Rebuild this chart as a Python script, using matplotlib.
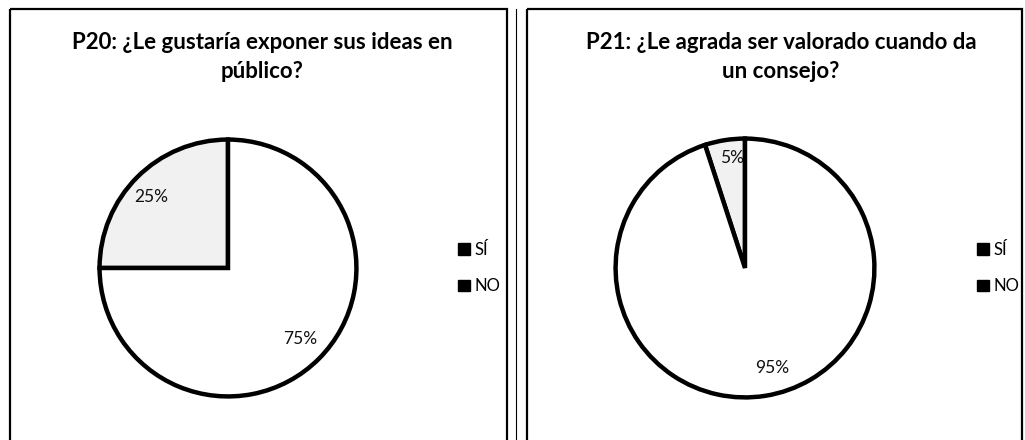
import matplotlib
matplotlib.use("Agg")
import matplotlib.pyplot as plt
from matplotlib.patches import Patch, Rectangle

categories = ["SÍ", "NO"]
titles = ["P20: ¿Le gustaría exponer sus ideas en\npúblico?",
          "P21: ¿Le agrada ser valorado cuando da\nun consejo?"]
values_p20 = [25, 75]
values_p21 = [5, 95]
series = [values_p20, values_p21]
label_pos = [[(-0.6, 0.55), (0.56, -0.55)], [(-0.1, 0.85), (0.21, -0.77)]]

plt.rcParams['font.family'] = ['Lato', 'DejaVu Sans']

W, H = 1025, 440
fig = plt.figure(figsize=(W / 100, H / 100), dpi=100)
fig.patch.set_facecolor('white')

def px_axes(x0, y0, w, h):
    return fig.add_axes([x0 / W, 1 - (y0 + h) / H, w / W, h / H])

panels = [dict(box=(10, 9, 497, 440), cx=228, cy=268, r=131, title_x=262, leg_x=455),
          dict(box=(527, 9, 495, 440), cx=745, cy=268, r=132, title_x=781, leg_x=974)]

# panel borders
bg = fig.add_axes([0, 0, 1, 1])
bg.set_xlim(0, W)
bg.set_ylim(H, 0)
bg.axis('off')
for p in panels:
    x0, y0, w, h = p['box']
    bg.add_patch(Rectangle((x0, y0), w, h + 20, fill=False, edgecolor='black', lw=1.6))
bg.plot([516, 516], [9, H], color='black', lw=0.8)

for i, p in enumerate(panels):
    r = p['r']
    ax = px_axes(p['cx'] - r, p['cy'] - r, 2 * r, 2 * r)
    wedges, _ = ax.pie(series[i], startangle=90, counterclock=True,
                       colors=['#f1f1f1', 'white'],
                       wedgeprops=dict(edgecolor='black', linewidth=3.2))
    ax.set_xlim(-1.02, 1.02)
    ax.set_ylim(-1.02, 1.02)
    ax.set_aspect('equal')
    ax.axis('off')
    for (lx, ly), v in zip(label_pos[i], series[i]):
        ax.text(lx, ly, f"{v}%", ha='center', va='center', fontsize=12.5, color='#111111')
    fig.text(p['title_x'] / W, 1 - 57 / H, titles[i], ha='center', va='center',
             fontsize=16, fontweight='bold', linespacing=1.45)
    handles = [Patch(facecolor='black', edgecolor='black') for _ in categories]
    fig.legend(handles, categories, loc='center left',
               bbox_to_anchor=((p['leg_x'] - 12) / W, 1 - 268 / H),
               frameon=False, fontsize=12, handlelength=0.7, handleheight=0.7,
               handletextpad=0.3, labelspacing=1.25)

fig.savefig("out.png", dpi=100, facecolor='white')
